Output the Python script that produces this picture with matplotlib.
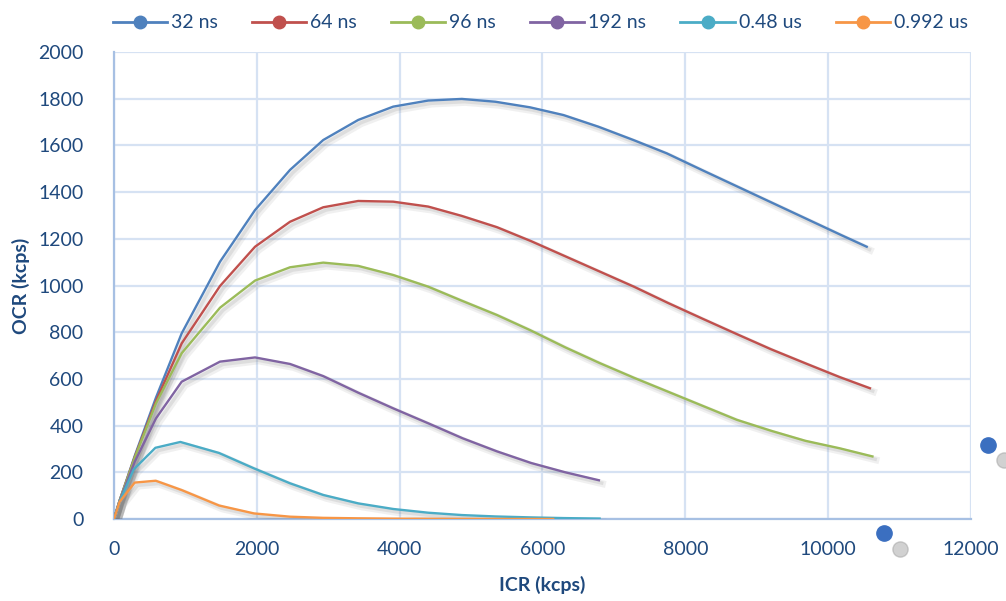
import matplotlib
matplotlib.use("Agg")
import matplotlib.pyplot as plt
import matplotlib.patheffects as pe
from matplotlib.lines import Line2D

# Input count rate (kcps) and output count rate (kcps) per shaping time
icr_32 = [0, 80, 290, 588, 948, 1485, 1975, 2465, 2930, 3420, 3910, 4400, 4870,
          5340, 5826, 6293, 6783, 7273, 7740, 8230, 8720, 9210, 9700, 10190, 10540]
ocr_32 = [0, 80, 270, 520, 795, 1102, 1323, 1495, 1623, 1709, 1766, 1792, 1799,
          1787, 1763, 1730, 1680, 1623, 1566, 1495, 1425, 1355, 1285, 1215, 1166]

icr_64 = [0, 80, 290, 588, 948, 1485, 1975, 2465, 2930, 3420, 3910, 4400, 4870,
          5360, 5840, 6320, 6800, 7280, 7760, 8240, 8720, 9200, 9680, 10160, 10585]
ocr_64 = [0, 80, 265, 505, 752, 998, 1166, 1273, 1335, 1362, 1359, 1338, 1298,
          1250, 1190, 1125, 1060, 995, 925, 858, 792, 727, 667, 608, 560]

icr_96 = [0, 80, 290, 588, 948, 1485, 1975, 2465, 2930, 3420, 3910, 4400, 4870,
          5360, 5826, 6320, 6800, 7280, 7760, 8240, 8720, 9200, 9680, 10160, 10620]
ocr_96 = [0, 80, 262, 495, 710, 905, 1021, 1078, 1098, 1084, 1045, 995, 935,
          874, 809, 735, 668, 605, 545, 485, 425, 378, 335, 303, 268]

icr_192 = [0, 80, 290, 588, 948, 1485, 1975, 2465, 2930, 3420, 3910, 4400, 4880,
           5360, 5840, 6320, 6790]
ocr_192 = [0, 78, 245, 431, 588, 674, 692, 664, 612, 541, 474, 410, 346,
           290, 240, 200, 166]

icr_480 = [0, 80, 275, 580, 930, 1470, 1960, 2465, 2930, 3420, 3910, 4400, 4870,
           5340, 5830, 6300, 6800]
ocr_480 = [0, 76, 212, 305, 330, 283, 217, 153, 103, 67, 43, 27, 17,
           11, 7, 4, 2]

icr_992 = [0, 79, 290, 585, 948, 1470, 1960, 2465, 2930, 3420, 3910, 4400, 4870,
           5340, 5830, 6150]
ocr_992 = [0, 74, 156, 164, 124, 58, 24, 10, 5, 3, 1.5, 1, 0.5,
           0.3, 0.2, 0.1]

series_labels = ["32 ns", "64 ns", "96 ns", "192 ns", "0.48 us", "0.992 us"]
series_colors = ["#4F81BD", "#C0504D", "#9BBB59", "#8064A2", "#4BACC6", "#F79646"]
series_x = [icr_32, icr_64, icr_96, icr_192, icr_480, icr_992]
series_y = [ocr_32, ocr_64, ocr_96, ocr_192, ocr_480, ocr_992]

x_ticks = [0, 2000, 4000, 6000, 8000, 10000, 12000]
y_ticks = [0, 200, 400, 600, 800, 1000, 1200, 1400, 1600, 1800, 2000]

text_color = "#1F497D"
grid_color = "#D6E2F3"
spine_color = "#A7C0E3"

plt.rcParams["font.family"] = ["Lato", "DejaVu Sans"]

fig = plt.figure(figsize=(10.06, 6.01), dpi=100)
ax = fig.add_axes([0.1133, 0.1364, 0.8519, 0.7771])

# soft drop shadow under each curve
shadow = [pe.SimpleLineShadow(offset=(2.5, -2.5), shadow_color="#707070", alpha=0.10, linewidth=5),
          pe.SimpleLineShadow(offset=(2.0, -2.0), shadow_color="#707070", alpha=0.14, linewidth=2.5),
          pe.Normal()]

for xs, ys, c in zip(series_x, series_y, series_colors):
    ax.plot(xs, ys, color=c, lw=1.7, solid_joinstyle="round", zorder=3,
            path_effects=shadow)

ax.set_xlim(x_ticks[0], x_ticks[-1])
ax.set_ylim(y_ticks[0], y_ticks[-1])
ax.set_xticks(x_ticks)
ax.set_yticks(y_ticks)
ax.grid(True, color=grid_color, lw=1.6, zorder=0)
ax.set_axisbelow(True)
ax.tick_params(length=0, labelsize=14, labelcolor=text_color)
ax.tick_params(axis="x", pad=16)
ax.tick_params(axis="y", pad=22)
for side in ["top", "right"]:
    ax.spines[side].set_visible(False)
for side in ["left", "bottom"]:
    ax.spines[side].set_color(spine_color)
    ax.spines[side].set_linewidth(1.6)

ax.set_xlabel("ICR (kcps)", fontsize=14, fontweight="bold", color=text_color, labelpad=13)
ax.set_ylabel("OCR (kcps)", fontsize=14, fontweight="bold", color=text_color, labelpad=6)

handles = [Line2D([], [], color=c, lw=2, marker="o", markersize=9,
                  markerfacecolor=c, markeredgecolor=c)
           for c in series_colors]
fig.legend(handles, series_labels, loc="upper center", bbox_to_anchor=(0.537, 1.005),
           ncol=6, frameon=False, fontsize=14, handlelength=2.8, columnspacing=1.75,
           handletextpad=0.2, labelcolor=text_color)

# leftover selection handles beside the plot area
for hx, hy in [(0.982, 0.26), (0.879, 0.113)]:
    fig.add_artist(Line2D([hx + 0.016], [hy - 0.026], marker="o", markersize=11,
                          color="#9A9A9A", alpha=0.45, transform=fig.transFigure))
    fig.add_artist(Line2D([hx], [hy], marker="o", markersize=11,
                          color="#3B6FC0", transform=fig.transFigure))

fig.savefig("out.png", dpi=100)
